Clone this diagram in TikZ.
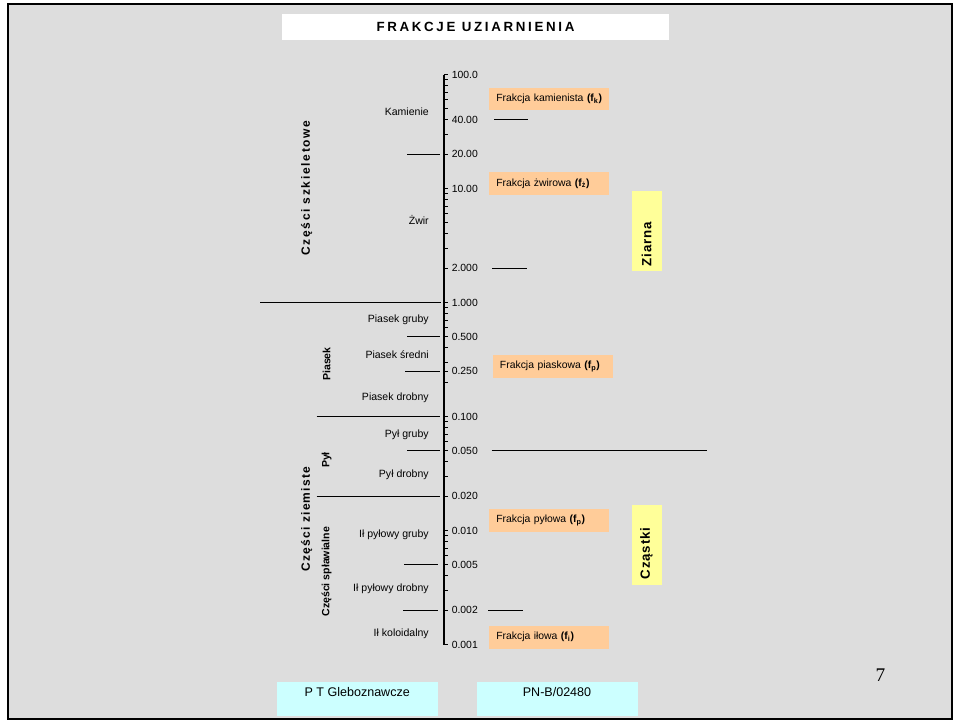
\documentclass[tikz,border=0pt]{standalone}
\usepackage{fontspec}
\setmainfont{Liberation Sans}
\newfontfamily\titlefont[LetterSpace=20]{Liberation Sans}
\newfontfamily\spcA[LetterSpace=14]{Liberation Sans}
\newfontfamily\spcB[LetterSpace=10]{Liberation Sans}
\newfontfamily\spcC[LetterSpace=6]{Liberation Sans}
\newfontfamily\numfont{Liberation Serif}
\definecolor{bggray}{HTML}{DDDDDD}
\definecolor{orangeF}{HTML}{FFCC99}
\definecolor{yellowF}{HTML}{FFFF99}
\definecolor{cyanF}{HTML}{CCFFFF}
\tikzset{
 lbl/.style={font=\fontsize{7.9}{9}\selectfont, inner sep=0pt, anchor=base east},
 ticklbl/.style={font=\fontsize{7.8}{9}\selectfont, inner sep=0pt, anchor=west},
 rlbl/.style={font=\fontsize{7.9}{9}\selectfont\bfseries, inner sep=0pt, rotate=90},
 bigrlbl/.style={inner sep=0pt, rotate=90},
 obox/.style={fill=orangeF, text width=79.5pt, inner xsep=5.25pt, inner ysep=0pt, minimum height=17pt, align=left, anchor=north west, font=\fontsize{7.8}{9}\selectfont},
 ybox/.style={fill=yellowF, minimum width=22.5pt, minimum height=60pt, inner sep=0pt, anchor=north west},
 cbox/.style={fill=cyanF, minimum width=120.75pt, minimum height=25pt, inner sep=0pt, anchor=north west},
 cboxtxt/.style={font=\fontsize{9.4}{11}\selectfont, inner sep=0pt, anchor=base},
 bline/.style={line width=0.75pt},
 tickmark/.style={line width=0.6pt},
}
\begin{document}
\begin{tikzpicture}[x=0.75pt,y=-0.75pt]
\useasboundingbox (0,0) rectangle (960,721);
\fill[white] (0,0) rectangle (960,721);
\draw[line width=1.5pt, fill=bggray] (8,3.5) rectangle (951.5,719);

% title
\node[fill=white, minimum width=290.25pt, minimum height=19.5pt, inner sep=0pt, anchor=north west,
      font=\fontsize{10}{12}\titlefont\bfseries] (title) at (281.7,14) {FRAKCJE UZIARNIENIA};

% axis
\coordinate (axtop) at (444,74.5);
\coordinate (axbot) at (444,644.5);
\draw[line width=1.1pt] (axtop) -- (axbot);
\draw[tickmark] (444,74.5) -- ++(4,0);
\draw[tickmark] (444,371.1) -- ++(4,0);
\foreach \e in {0,...,4}{
  \foreach \k in {1,...,9}{
    \draw[tickmark] (444,{74.5+114*(\e+1-log10(\k))}) -- ++(4,0);
  }
}
\foreach \y/\t [count=\i] in {74.5/100.0, 119.9/40.00, 154.2/20.00, 188.5/10.00, 268.2/2.000,
   302.5/1.000, 336.8/0.500, 371.1/0.250, 416.5/0.100, 450.8/0.050, 496.2/0.020,
   530.5/0.010, 564.8/0.005, 610.2/0.002, 644.5/0.001}{
  \node[ticklbl] (t\i) at (451.5,\y) {\t};
}

% boundary lines left
\draw[bline] (407,154.2) -- (440,154.2);
\draw[bline] (260,302.5) -- (441,302.5);
\draw[bline] (407,336.8) -- (440,336.8);
\draw[bline] (405,371.1) -- (440,371.1);
\draw[bline] (316.7,416.5) -- (440,416.5);
\draw[bline] (407,450.8) -- (440,450.8);
\draw[bline] (316.7,496.2) -- (440,496.2);
\draw[bline] (404,564.8) -- (438,564.8);
\draw[bline] (403,610.2) -- (437.5,610.2);
% boundary lines right
\draw[bline] (494,119.9) -- (528,119.9);
\draw[bline] (492.3,268.2) -- (526.7,268.2);
\draw[bline] (491.7,450.8) -- (707.3,450.8);
\draw[bline] (488.3,610.2) -- (522.7,610.2);

% left labels
\node[lbl] (kam) at (429,115.3) {Kamienie};
\node[lbl] (zw) at (429,224.3) {Żwir};
\node[lbl] (pg) at (429,322.9) {Piasek gruby};
\node[lbl] (ps) at (429,358.9) {Piasek średni};
\node[lbl] (pd) at (429,400.9) {Piasek drobny};
\node[lbl] (plg) at (429,437.9) {Pył gruby};
\node[lbl] (pld) at (429,477.9) {Pył drobny};
\node[lbl] (ipg) at (429,537.9) {Ił pyłowy gruby};
\node[lbl] (ipd) at (429,591.9) {Ił pyłowy drobny};
\node[lbl] (ik) at (429,636.9) {Ił koloidalny};

% rotated labels
\node[bigrlbl, font=\fontsize{9}{11}\spcA\bfseries] (szk) at (306.7,188) {Części szkieletowe};
\node[bigrlbl, font=\fontsize{9}{11}\spcB\bfseries] (ziem) at (306.7,519) {Części ziemiste};
\node[rlbl] (piasek) at (326.7,364) {Piasek};
\node[rlbl] (pyl) at (326.7,460) {Pył};
\node[rlbl] (splaw) at (326.7,571.7) {Części spławialne};

% orange boxes
\node[obox] (fk) at (489,87.3) {Frakcja kamienista \textbf{(f\textsubscript{k})}};
\node[obox] (fz) at (489,172) {Frakcja żwirowa \textbf{(f\textsubscript{ż})}};
\node[obox] (fpi) at (492.7,355) {Frakcja piaskowa \textbf{(f\textsubscript{p})}};
\node[obox] (fpy) at (489,509) {Frakcja pyłowa \textbf{(f\textsubscript{p})}};
\node[obox] (fi) at (489,625.7) {Frakcja iłowa \textbf{(f\textsubscript{i})}};

% yellow boxes
\node[ybox] (ybox1) at (632,191) {};
\node[bigrlbl, font=\fontsize{10}{12}\spcC\bfseries] (ziarna) at (646.5,244) {Ziarna};
\node[ybox] (ybox2) at (632,505) {};
\node[bigrlbl, font=\fontsize{10}{12}\spcC\bfseries] (czastki) at (646.5,553.5) {Cząstki};

% bottom boxes
\node[cbox] (cb1) at (276.7,682) {};
\node[cboxtxt] (cb1t) at (357.2,696.5) {P T Gleboznawcze};
\node[cbox] (cb2) at (477,682) {};
\node[cboxtxt] (cb2t) at (557,696.5) {PN-B/02480};

% page number
\node[font=\fontsize{14.5}{16}\numfont, inner sep=0pt] (pnum) at (880.5,675) {7};
\end{tikzpicture}
\end{document}
